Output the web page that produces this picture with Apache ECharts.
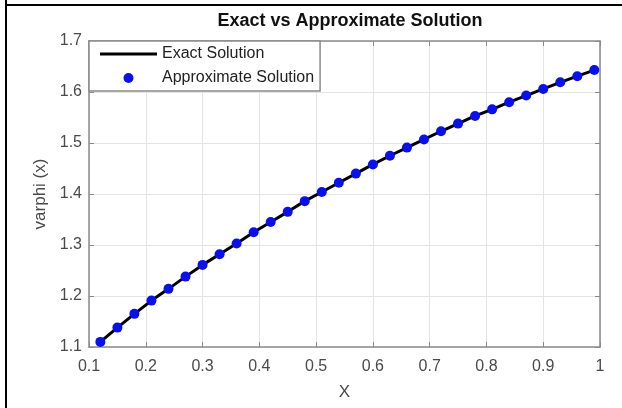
<!DOCTYPE html>
<html>
<head>
<meta charset="utf-8">
<script src="https://cdn.jsdelivr.net/npm/echarts@6/dist/echarts.min.js"></script>
<style>
html,body{margin:0;padding:0;background:#fff;}
#chart{width:622px;height:408px;}
</style>
</head>
<body>
<div id="chart"></div>
<script>
const titleText = 'Exact vs Approximate Solution';
const xName = 'X';
const yName = 'varphi (x)';
const seriesNames = ['Exact Solution', 'Approximate Solution'];
const xValues = [0.12,0.15,0.18,0.21,0.24,0.27,0.30,0.33,0.36,0.39,0.42,0.45,0.48,0.51,0.54,0.57,0.60,0.63,0.66,0.69,0.72,0.75,0.78,0.81,0.84,0.87,0.90,0.93,0.96,0.99];
const exactValues = [1.110,1.138,1.165,1.191,1.214,1.238,1.261,1.282,1.303,1.325,1.345,1.365,1.386,1.404,1.422,1.440,1.458,1.475,1.491,1.507,1.523,1.538,1.553,1.566,1.580,1.593,1.606,1.619,1.631,1.643];
const approxValues = [1.110,1.138,1.165,1.191,1.214,1.238,1.261,1.282,1.303,1.325,1.345,1.365,1.386,1.404,1.422,1.440,1.458,1.475,1.491,1.507,1.523,1.538,1.553,1.566,1.580,1.593,1.606,1.619,1.631,1.643];
const xRange = [0.1, 1.0, 0.1];
const yRange = [1.1, 1.7, 0.1];

const exactData = xValues.map((x, i) => [x, exactValues[i]]);
const approxData = xValues.map((x, i) => [x, approxValues[i]]);

const font = '"Liberation Sans", Arial, Helvetica, sans-serif';
const axisGray = '#8a8a8a';
const labelGray = '#4a4a4a';

const chart = echarts.init(document.getElementById('chart'), null, {renderer: 'canvas'});
chart.setOption({
  animation: false,
  backgroundColor: '#fff',
  title: {
    text: titleText,
    left: 345, top: 7, textAlign: 'center',
    textStyle: {fontFamily: font, fontSize: 18, fontWeight: 'bold', color: '#111'}
  },
  grid: {left: 89, top: 41, width: 511, height: 306, containLabel: false},
  legend: {
    orient: 'vertical',
    left: 89, top: 41,
    padding: [5, 6, 5, 11],
    itemGap: 8,
    itemWidth: 57, itemHeight: 10,
    backgroundColor: '#fff',
    borderColor: axisGray, borderWidth: 1.5, borderRadius: 0,
    textStyle: {fontFamily: font, fontSize: 16, color: '#222', lineHeight: 16},
    data: [
      {name: seriesNames[0], icon: 'path://M0,0 L57,0 L57,3 L0,3 Z'},
      {name: seriesNames[1], icon: 'circle'}
    ]
  },
  xAxis: [{
    type: 'value', min: xRange[0], max: xRange[1], interval: xRange[2],
    name: xName, nameLocation: 'middle', nameGap: 37,
    nameTextStyle: {fontFamily: font, fontSize: 17, color: labelGray},
    axisLine: {show: true, onZero: false, lineStyle: {color: axisGray, width: 1.5}},
    axisTick: {show: true, inside: true, length: 5, lineStyle: {color: axisGray}},
    axisLabel: {fontFamily: font, fontSize: 16, color: labelGray, margin: 12},
    splitLine: {show: true, lineStyle: {color: '#e4e4e4', width: 1}}
  }, {
    type: 'value', position: 'top', min: xRange[0], max: xRange[1], interval: xRange[2],
    axisLine: {show: true, onZero: false, lineStyle: {color: axisGray, width: 1.5}},
    axisTick: {show: true, inside: true, length: 5, lineStyle: {color: axisGray}},
    axisLabel: {show: false}, splitLine: {show: false}
  }],
  yAxis: [{
    type: 'value', min: yRange[0], max: yRange[1], interval: yRange[2],
    name: yName, nameLocation: 'middle', nameGap: 40,
    nameTextStyle: {fontFamily: font, fontSize: 17, color: labelGray},
    axisLine: {show: true, onZero: false, lineStyle: {color: axisGray, width: 1.5}},
    axisTick: {show: true, inside: true, length: 5, lineStyle: {color: axisGray}},
    axisLabel: {fontFamily: font, fontSize: 16, color: labelGray, margin: 7},
    splitLine: {show: true, lineStyle: {color: '#e4e4e4', width: 1}}
  }, {
    type: 'value', position: 'right', min: yRange[0], max: yRange[1], interval: yRange[2],
    axisLine: {show: true, onZero: false, lineStyle: {color: axisGray, width: 1.5}},
    axisTick: {show: true, inside: true, length: 5, lineStyle: {color: axisGray}},
    axisLabel: {show: false}, splitLine: {show: false}
  }],
  series: [{
    name: seriesNames[0], type: 'line', data: exactData,
    symbol: 'none', smooth: false,
    lineStyle: {color: '#000', width: 3},
    itemStyle: {color: '#000'},
    z: 2
  }, {
    name: seriesNames[1], type: 'scatter', data: approxData,
    symbol: 'circle', symbolSize: 10,
    itemStyle: {color: '#0a10e8', opacity: 1},
    z: 3
  }],
  graphic: [
    {type: 'line', shape: {x1: 6, y1: 0, x2: 6, y2: 408}, style: {stroke: '#000', lineWidth: 2}},
    {type: 'line', shape: {x1: 5, y1: 5, x2: 622, y2: 5}, style: {stroke: '#000', lineWidth: 2}}
  ]
});
</script>
</body>
</html>
